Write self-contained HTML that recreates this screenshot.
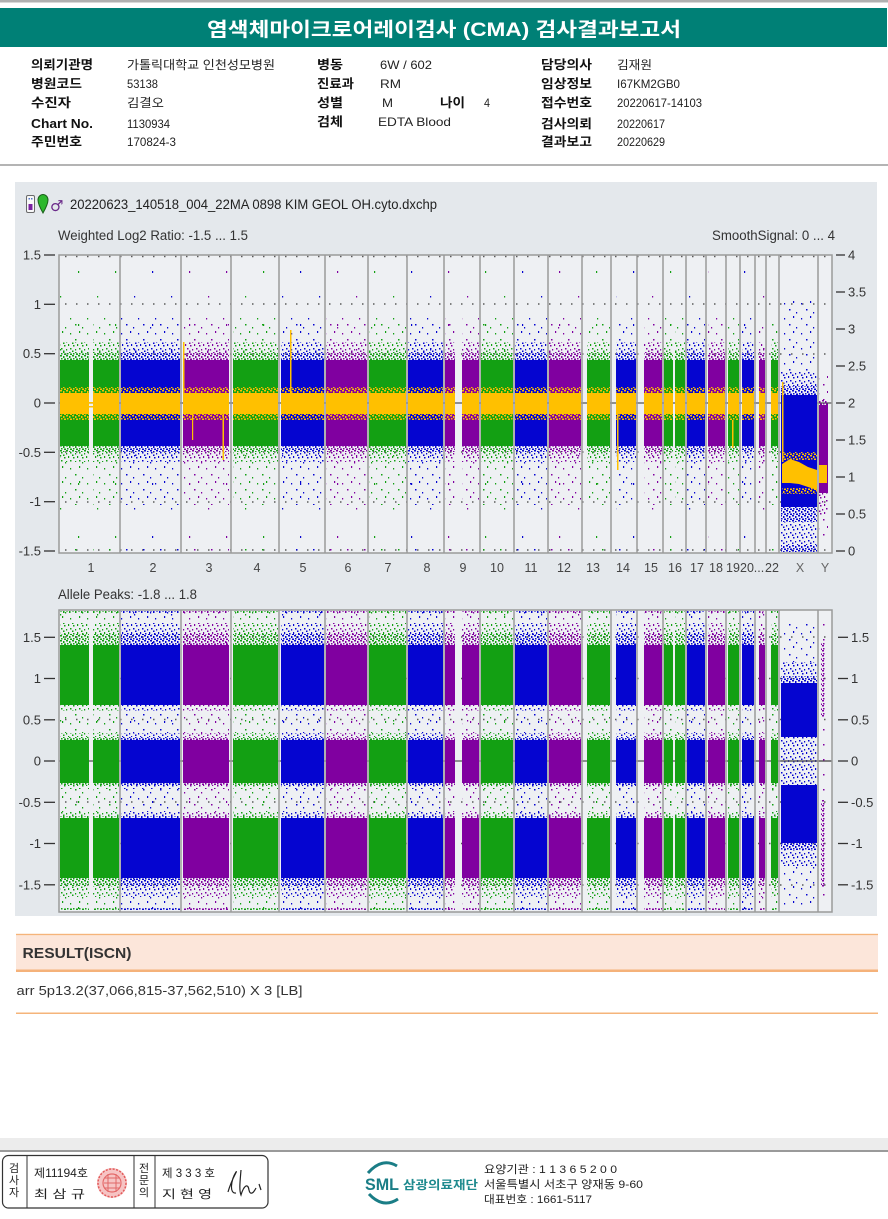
<!DOCTYPE html>
<html><head><meta charset="utf-8"><style>
html,body{margin:0;padding:0;background:#fff;}
svg{display:block;}
text{font-family:"Liberation Sans","Noto Sans CJK KR",sans-serif;}
</style></head><body>
<svg width="888" height="1219" viewBox="0 0 888 1219" xmlns="http://www.w3.org/2000/svg">
<defs>
 <g id="tD"><rect x="0" y="0" width="2" height="1.5"/><rect x="3" y="1" width="1.5" height="2"/><rect x="1" y="3" width="1.5" height="1.5"/><rect x="4" y="3.5" width="2" height="1.5"/></g>
 <g id="tM"><rect x="1" y="1" width="1.5" height="1.5"/><rect x="5" y="0" width="1.2" height="2"/><rect x="7" y="4" width="1.5" height="1.5"/><rect x="3" y="5" width="1.2" height="1.5"/><rect x="0" y="6.5" width="1.5" height="1.5"/></g>
 <g id="tS"><rect x="2" y="3" width="1.2" height="1.5"/><rect x="11" y="1" width="1.2" height="2"/><rect x="7" y="9" width="1.5" height="1.5"/><rect x="14" y="12" width="1.2" height="1.5"/></g>
 <g id="tV"><rect x="4" y="6" width="1.2" height="2"/><rect x="23" y="31" width="1.2" height="1.5"/></g>

 <pattern id="gD" width="6" height="5" patternUnits="userSpaceOnUse"><use href="#tD" fill="#13a013"/></pattern>
 <pattern id="gM" width="9" height="8" patternUnits="userSpaceOnUse"><use href="#tM" fill="#13a013"/></pattern>
 <pattern id="gS" width="17" height="15" patternUnits="userSpaceOnUse"><use href="#tS" fill="#13a013"/></pattern>
 <pattern id="gV" width="37" height="53" patternUnits="userSpaceOnUse"><use href="#tV" fill="#13a013"/></pattern>

 <pattern id="bD" width="6" height="5" patternUnits="userSpaceOnUse"><use href="#tD" fill="#0505d0"/></pattern>
 <pattern id="bM" width="9" height="8" patternUnits="userSpaceOnUse"><use href="#tM" fill="#0505d0"/></pattern>
 <pattern id="bS" width="17" height="15" patternUnits="userSpaceOnUse"><use href="#tS" fill="#0505d0"/></pattern>
 <pattern id="bV" width="37" height="53" patternUnits="userSpaceOnUse"><use href="#tV" fill="#0505d0"/></pattern>

 <pattern id="pD" width="6" height="5" patternUnits="userSpaceOnUse"><use href="#tD" fill="#8000a0"/></pattern>
 <pattern id="pM" width="9" height="8" patternUnits="userSpaceOnUse"><use href="#tM" fill="#8000a0"/></pattern>
 <pattern id="pS" width="17" height="15" patternUnits="userSpaceOnUse"><use href="#tS" fill="#8000a0"/></pattern>
 <pattern id="pV" width="37" height="53" patternUnits="userSpaceOnUse"><use href="#tV" fill="#8000a0"/></pattern>

 <pattern id="oD" width="6" height="5" patternUnits="userSpaceOnUse"><use href="#tD" fill="#ffc000"/></pattern>

 <clipPath id="cg">
  <rect x="60" y="0" width="29" height="1219"/><rect x="93" y="0" width="26" height="1219"/>
  <rect x="233" y="0" width="45" height="1219"/><rect x="369" y="0" width="37" height="1219"/>
  <rect x="481" y="0" width="32" height="1219"/><rect x="587" y="0" width="23" height="1219"/>
  <rect x="664" y="0" width="9" height="1219"/><rect x="675" y="0" width="10" height="1219"/>
  <rect x="728" y="0" width="11" height="1219"/><rect x="771" y="0" width="7" height="1219"/>
 </clipPath>
 <clipPath id="cb">
  <rect x="121" y="0" width="59" height="1219"/><rect x="281" y="0" width="43" height="1219"/>
  <rect x="408" y="0" width="35" height="1219"/><rect x="515" y="0" width="32" height="1219"/>
  <rect x="616" y="0" width="20" height="1219"/><rect x="687" y="0" width="18" height="1219"/>
  <rect x="742" y="0" width="12" height="1219"/>
 </clipPath>
 <clipPath id="cp">
  <rect x="183" y="0" width="46" height="1219"/><rect x="326" y="0" width="41" height="1219"/>
  <rect x="445" y="0" width="10" height="1219"/><rect x="462" y="0" width="17" height="1219"/>
  <rect x="549" y="0" width="32" height="1219"/><rect x="644" y="0" width="18" height="1219"/>
  <rect x="708" y="0" width="17" height="1219"/><rect x="759" y="0" width="6" height="1219"/>
 </clipPath>
</defs>

<!-- ===== HEADER ===== -->
<rect x="0" y="0" width="888" height="2.5" fill="#b0b0b0"/>
<rect x="0" y="8" width="887" height="39" fill="#008076"/>
<text x="444" y="36" text-anchor="middle" font-size="19.5" font-weight="bold" fill="#fff" textLength="474" lengthAdjust="spacingAndGlyphs">염색체마이크로어레이검사 (CMA) 검사결과보고서</text>

<g font-size="12.5" font-weight="bold" fill="#111">
 <text x="31" y="69" textLength="62" lengthAdjust="spacingAndGlyphs">의뢰기관명</text>
 <text x="31" y="88" textLength="51" lengthAdjust="spacingAndGlyphs">병원코드</text>
 <text x="31" y="107" textLength="40" lengthAdjust="spacingAndGlyphs">수진자</text>
 <text x="31" y="128" textLength="62" lengthAdjust="spacingAndGlyphs">Chart No.</text>
 <text x="31" y="146" textLength="51" lengthAdjust="spacingAndGlyphs">주민번호</text>
 <text x="317" y="69" textLength="26" lengthAdjust="spacingAndGlyphs">병동</text>
 <text x="317" y="88" textLength="37" lengthAdjust="spacingAndGlyphs">진료과</text>
 <text x="317" y="107" textLength="26" lengthAdjust="spacingAndGlyphs">성별</text>
 <text x="317" y="126" textLength="26" lengthAdjust="spacingAndGlyphs">검체</text>
 <text x="440" y="107" textLength="25" lengthAdjust="spacingAndGlyphs">나이</text>
 <text x="541" y="69" textLength="51" lengthAdjust="spacingAndGlyphs">담당의사</text>
 <text x="541" y="88" textLength="51" lengthAdjust="spacingAndGlyphs">임상정보</text>
 <text x="541" y="107" textLength="51" lengthAdjust="spacingAndGlyphs">접수번호</text>
 <text x="541" y="128" textLength="51" lengthAdjust="spacingAndGlyphs">검사의뢰</text>
 <text x="541" y="146" textLength="51" lengthAdjust="spacingAndGlyphs">결과보고</text>
</g>
<g font-size="12" fill="#222">
 <text x="127" y="69" textLength="148" lengthAdjust="spacingAndGlyphs">가톨릭대학교 인천성모병원</text>
 <text x="127" y="88" textLength="31" lengthAdjust="spacingAndGlyphs">53138</text>
 <text x="127" y="107" textLength="37" lengthAdjust="spacingAndGlyphs">김결오</text>
 <text x="127" y="128" textLength="43" lengthAdjust="spacingAndGlyphs">1130934</text>
 <text x="127" y="146" textLength="49" lengthAdjust="spacingAndGlyphs">170824-3</text>
 <text x="380" y="69" textLength="52" lengthAdjust="spacingAndGlyphs">6W / 602</text>
 <text x="380" y="88" textLength="21" lengthAdjust="spacingAndGlyphs">RM</text>
 <text x="382" y="107" textLength="11" lengthAdjust="spacingAndGlyphs">M</text>
 <text x="484" y="107" textLength="6" lengthAdjust="spacingAndGlyphs">4</text>
 <text x="378" y="126" textLength="73" lengthAdjust="spacingAndGlyphs">EDTA Blood</text>
 <text x="617" y="69" textLength="35" lengthAdjust="spacingAndGlyphs">김재원</text>
 <text x="617" y="88" textLength="63" lengthAdjust="spacingAndGlyphs">I67KM2GB0</text>
 <text x="617" y="107" textLength="85" lengthAdjust="spacingAndGlyphs">20220617-14103</text>
 <text x="617" y="128" textLength="48" lengthAdjust="spacingAndGlyphs">20220617</text>
 <text x="617" y="146" textLength="48" lengthAdjust="spacingAndGlyphs">20220629</text>
</g>
<rect x="0" y="164" width="888" height="2" fill="#b4b4b4"/>

<!-- ===== CHART PANEL ===== -->
<rect x="15" y="182" width="862" height="734" fill="#e4e8ec"/>

<!-- title row -->
<rect x="26.5" y="195.5" width="8" height="17" rx="1.5" fill="#f8f8f8" stroke="#6a6a6a"/>
<rect x="28.5" y="204" width="4" height="6" fill="#7a1fa0"/>
<rect x="28.5" y="198" width="1.5" height="1.5" fill="#5577cc"/><rect x="31" y="198" width="1.5" height="1.5" fill="#5577cc"/>
<path d="M43,213 C39,206 38,203 38,200 A5,5.5 0 0 1 48,200 C48,203 47,206 43,213 Z" fill="#2db82d" stroke="#1a5f1a"/>
<text x="50" y="211" font-size="15" fill="#6b2a8a" style="font-family:'DejaVu Sans',sans-serif">♂</text>
<text x="70" y="209" font-size="14" fill="#222" textLength="367" lengthAdjust="spacingAndGlyphs">20220623_140518_004_22MA 0898 KIM GEOL OH.cyto.dxchp</text>

<text x="58" y="240" font-size="13.5" fill="#333" textLength="190" lengthAdjust="spacingAndGlyphs">Weighted Log2 Ratio: -1.5 ... 1.5</text>
<text x="835" y="240" font-size="13.5" fill="#333" text-anchor="end" textLength="123" lengthAdjust="spacingAndGlyphs">SmoothSignal: 0 ... 4</text>
<text x="58" y="599" font-size="13.5" fill="#333" textLength="139" lengthAdjust="spacingAndGlyphs">Allele Peaks: -1.8 ... 1.8</text>

<!-- plot backgrounds -->
<rect x="59" y="255" width="773" height="298" fill="#eef0f3"/>
<rect x="59" y="610" width="773" height="302" fill="#eef0f3"/>

<!-- grids -->
<g stroke="#5a5a5a" stroke-width="1.5" stroke-dasharray="1.5 9.5">
 <line x1="65" y1="256.5" x2="832" y2="256.5"/>
 <line x1="65" y1="304" x2="832" y2="304"/>
 <line x1="65" y1="354" x2="832" y2="354"/>
 <line x1="65" y1="452" x2="832" y2="452"/>
 <line x1="65" y1="502" x2="832" y2="502"/>
 <line x1="65" y1="550" x2="832" y2="550"/>
 <line x1="65" y1="637" x2="832" y2="637"/>
 <line x1="65" y1="678.5" x2="832" y2="678.5"/>
 <line x1="65" y1="719.5" x2="832" y2="719.5"/>
 <line x1="65" y1="802" x2="832" y2="802"/>
 <line x1="65" y1="843.5" x2="832" y2="843.5"/>
 <line x1="65" y1="885" x2="832" y2="885"/>
</g>
<line x1="59" y1="403" x2="832" y2="403" stroke="#555" stroke-width="1.3"/>
<line x1="59" y1="761" x2="832" y2="761" stroke="#555" stroke-width="1.3"/>

<!-- ===== DATA: GREEN ===== -->
<g clip-path="url(#cg)">
<rect x="0" y="256" width="888" height="295" fill="url(#gV)"/>
<rect x="0" y="318" width="888" height="24" fill="url(#gS)"/>
<rect x="0" y="462" width="888" height="43" fill="url(#gS)"/>
<rect x="0" y="342" width="888" height="10" fill="url(#gM)"/>
<rect x="0" y="452" width="888" height="10" fill="url(#gM)"/>
<rect x="0" y="352" width="888" height="8" fill="url(#gD)"/>
<rect x="0" y="446" width="888" height="6" fill="url(#gD)"/>
<rect x="0" y="549" width="888" height="3" fill="url(#gS)"/>
<rect x="0" y="360" width="888" height="86" fill="#13a013"/>
<rect x="0" y="387" width="888" height="6" fill="url(#oD)"/>
<rect x="0" y="414" width="888" height="6" fill="url(#oD)"/>
<rect x="0" y="393" width="888" height="21" fill="#ffc000"/>
<rect x="0" y="612" width="888" height="298" fill="url(#gV)"/>
<rect x="0" y="612" width="888" height="11" fill="url(#gS)"/>
<rect x="0" y="711" width="888" height="22" fill="url(#gS)"/>
<rect x="0" y="789" width="888" height="23" fill="url(#gS)"/>
<rect x="0" y="897" width="888" height="12" fill="url(#gS)"/>
<rect x="0" y="623" width="888" height="11" fill="url(#gM)"/>
<rect x="0" y="705" width="888" height="6" fill="url(#gM)"/>
<rect x="0" y="733" width="888" height="4" fill="url(#gM)"/>
<rect x="0" y="785" width="888" height="4" fill="url(#gM)"/>
<rect x="0" y="812" width="888" height="4" fill="url(#gM)"/>
<rect x="0" y="886" width="888" height="11" fill="url(#gM)"/>
<rect x="0" y="634" width="888" height="11" fill="url(#gD)"/>
<rect x="0" y="737" width="888" height="3" fill="url(#gD)"/>
<rect x="0" y="783" width="888" height="2" fill="url(#gD)"/>
<rect x="0" y="816" width="888" height="2" fill="url(#gD)"/>
<rect x="0" y="878" width="888" height="8" fill="url(#gD)"/>
<rect x="0" y="611" width="888" height="2" fill="url(#gD)"/>
<rect x="0" y="908" width="888" height="2" fill="url(#gD)"/>
<rect x="0" y="645" width="888" height="60" fill="#13a013"/>
<rect x="0" y="740" width="888" height="43" fill="#13a013"/>
<rect x="0" y="818" width="888" height="60" fill="#13a013"/>
</g>

<!-- ===== DATA: BLUE ===== -->
<g clip-path="url(#cb)">
<rect x="0" y="256" width="888" height="295" fill="url(#bV)"/>
<rect x="0" y="318" width="888" height="24" fill="url(#bS)"/>
<rect x="0" y="462" width="888" height="43" fill="url(#bS)"/>
<rect x="0" y="342" width="888" height="10" fill="url(#bM)"/>
<rect x="0" y="452" width="888" height="10" fill="url(#bM)"/>
<rect x="0" y="352" width="888" height="8" fill="url(#bD)"/>
<rect x="0" y="446" width="888" height="6" fill="url(#bD)"/>
<rect x="0" y="549" width="888" height="3" fill="url(#bS)"/>
<rect x="0" y="360" width="888" height="86" fill="#0505d0"/>
<rect x="0" y="387" width="888" height="6" fill="url(#oD)"/>
<rect x="0" y="414" width="888" height="6" fill="url(#oD)"/>
<rect x="0" y="393" width="888" height="21" fill="#ffc000"/>
<rect x="0" y="612" width="888" height="298" fill="url(#bV)"/>
<rect x="0" y="612" width="888" height="11" fill="url(#bS)"/>
<rect x="0" y="711" width="888" height="22" fill="url(#bS)"/>
<rect x="0" y="789" width="888" height="23" fill="url(#bS)"/>
<rect x="0" y="897" width="888" height="12" fill="url(#bS)"/>
<rect x="0" y="623" width="888" height="11" fill="url(#bM)"/>
<rect x="0" y="705" width="888" height="6" fill="url(#bM)"/>
<rect x="0" y="733" width="888" height="4" fill="url(#bM)"/>
<rect x="0" y="785" width="888" height="4" fill="url(#bM)"/>
<rect x="0" y="812" width="888" height="4" fill="url(#bM)"/>
<rect x="0" y="886" width="888" height="11" fill="url(#bM)"/>
<rect x="0" y="634" width="888" height="11" fill="url(#bD)"/>
<rect x="0" y="737" width="888" height="3" fill="url(#bD)"/>
<rect x="0" y="783" width="888" height="2" fill="url(#bD)"/>
<rect x="0" y="816" width="888" height="2" fill="url(#bD)"/>
<rect x="0" y="878" width="888" height="8" fill="url(#bD)"/>
<rect x="0" y="611" width="888" height="2" fill="url(#bD)"/>
<rect x="0" y="908" width="888" height="2" fill="url(#bD)"/>
<rect x="0" y="645" width="888" height="60" fill="#0505d0"/>
<rect x="0" y="740" width="888" height="43" fill="#0505d0"/>
<rect x="0" y="818" width="888" height="60" fill="#0505d0"/>
</g>

<!-- ===== DATA: PURPLE ===== -->
<g clip-path="url(#cp)">
<rect x="0" y="256" width="888" height="295" fill="url(#pV)"/>
<rect x="0" y="318" width="888" height="24" fill="url(#pS)"/>
<rect x="0" y="462" width="888" height="43" fill="url(#pS)"/>
<rect x="0" y="342" width="888" height="10" fill="url(#pM)"/>
<rect x="0" y="452" width="888" height="10" fill="url(#pM)"/>
<rect x="0" y="352" width="888" height="8" fill="url(#pD)"/>
<rect x="0" y="446" width="888" height="6" fill="url(#pD)"/>
<rect x="0" y="549" width="888" height="3" fill="url(#pS)"/>
<rect x="0" y="360" width="888" height="86" fill="#8000a0"/>
<rect x="0" y="387" width="888" height="6" fill="url(#oD)"/>
<rect x="0" y="414" width="888" height="6" fill="url(#oD)"/>
<rect x="0" y="393" width="888" height="21" fill="#ffc000"/>
<rect x="0" y="612" width="888" height="298" fill="url(#pV)"/>
<rect x="0" y="612" width="888" height="11" fill="url(#pS)"/>
<rect x="0" y="711" width="888" height="22" fill="url(#pS)"/>
<rect x="0" y="789" width="888" height="23" fill="url(#pS)"/>
<rect x="0" y="897" width="888" height="12" fill="url(#pS)"/>
<rect x="0" y="623" width="888" height="11" fill="url(#pM)"/>
<rect x="0" y="705" width="888" height="6" fill="url(#pM)"/>
<rect x="0" y="733" width="888" height="4" fill="url(#pM)"/>
<rect x="0" y="785" width="888" height="4" fill="url(#pM)"/>
<rect x="0" y="812" width="888" height="4" fill="url(#pM)"/>
<rect x="0" y="886" width="888" height="11" fill="url(#pM)"/>
<rect x="0" y="634" width="888" height="11" fill="url(#pD)"/>
<rect x="0" y="737" width="888" height="3" fill="url(#pD)"/>
<rect x="0" y="783" width="888" height="2" fill="url(#pD)"/>
<rect x="0" y="816" width="888" height="2" fill="url(#pD)"/>
<rect x="0" y="878" width="888" height="8" fill="url(#pD)"/>
<rect x="0" y="611" width="888" height="2" fill="url(#pD)"/>
<rect x="0" y="908" width="888" height="2" fill="url(#pD)"/>
<rect x="0" y="645" width="888" height="60" fill="#8000a0"/>
<rect x="0" y="740" width="888" height="43" fill="#8000a0"/>
<rect x="0" y="818" width="888" height="60" fill="#8000a0"/>
</g>

<!-- orange spikes -->
<g fill="#ffc000">
 <rect x="183" y="342" width="1.5" height="62"/>
 <rect x="192" y="404" width="1.2" height="36"/>
 <rect x="222.5" y="404" width="1.5" height="56"/>
 <rect x="290" y="330" width="1.5" height="70"/>
 <rect x="617" y="404" width="1.5" height="66"/>
 <rect x="89" y="402" width="4" height="1.5"/>
 <rect x="89" y="406" width="4" height="1.5"/>
 <rect x="732" y="420" width="1.5" height="28"/>
</g>

<!-- X upper -->
<rect x="781" y="300" width="36" height="72" fill="url(#bS)"/>
<rect x="781" y="372" width="36" height="14" fill="url(#bM)"/>
<rect x="781" y="386" width="36" height="9" fill="url(#bD)"/>
<rect x="781" y="395" width="36" height="112" fill="#0505d0"/>
<rect x="781" y="507" width="36" height="15" fill="url(#bD)"/>
<rect x="781" y="522" width="36" height="23" fill="url(#bM)"/>
<rect x="781" y="545" width="36" height="7" fill="url(#bD)"/>
<rect x="782" y="452" width="35" height="8" fill="url(#oD)"/>
<rect x="782" y="488" width="35" height="6" fill="url(#oD)"/>
<polygon points="782,464 790,459 799,462 808,467 817,470 817,490 808,487 799,484 790,483 782,483" fill="#ffc000"/>
<rect x="782" y="382" width="1.5" height="80" fill="#ffc000"/>
<!-- Y upper -->
<rect x="819" y="375" width="9" height="25" fill="url(#pS)"/>
<rect x="819" y="400" width="9" height="5" fill="url(#pD)"/>
<rect x="819" y="405" width="9" height="88" fill="#8000a0"/>
<rect x="819" y="493" width="9" height="22" fill="url(#pM)"/>
<rect x="819" y="515" width="9" height="25" fill="url(#pS)"/>
<rect x="819" y="465" width="8" height="18" fill="#ffc000"/>

<!-- X lower -->
<rect x="781" y="620" width="36" height="42" fill="url(#bS)"/>
<rect x="781" y="662" width="36" height="14" fill="url(#bM)"/>
<rect x="781" y="676" width="36" height="7" fill="url(#bD)"/>
<rect x="781" y="683" width="36" height="54" fill="#0505d0"/>
<rect x="781" y="737" width="36" height="48" fill="url(#bM)"/>
<rect x="781" y="785" width="36" height="58" fill="#0505d0"/>
<rect x="781" y="843" width="36" height="7" fill="url(#bD)"/>
<rect x="781" y="850" width="36" height="16" fill="url(#bM)"/>
<rect x="781" y="866" width="36" height="39" fill="url(#bS)"/>
<line x1="781" y1="761" x2="832" y2="761" stroke="#555" stroke-width="1.3"/>
<!-- Y lower -->
<rect x="821" y="612" width="5" height="31" fill="url(#pS)"/>
<rect x="821" y="643" width="4" height="74" fill="url(#pD)"/>
<rect x="821" y="717" width="5" height="83" fill="url(#pS)"/>
<rect x="821" y="800" width="4" height="87" fill="url(#pD)"/>
<rect x="821" y="887" width="5" height="22" fill="url(#pS)"/>

<!-- separators & borders -->
<path d="M120 255V553M181 255V553M231 255V553M279 255V553M325 255V553M368 255V553M407 255V553M444 255V553M480 255V553M514 255V553M548 255V553M582 255V553M611 255V553M637 255V553M663 255V553M686 255V553M706 255V553M726 255V553M740 255V553M755 255V553M766 255V553M779 255V553M818 255V553" stroke="#9a9a9a" stroke-width="1.5" fill="none"/>
<path d="M120 610V912M181 610V912M231 610V912M279 610V912M325 610V912M368 610V912M407 610V912M444 610V912M480 610V912M514 610V912M548 610V912M582 610V912M611 610V912M637 610V912M663 610V912M686 610V912M706 610V912M726 610V912M740 610V912M755 610V912M766 610V912M779 610V912M818 610V912" stroke="#9a9a9a" stroke-width="1.5" fill="none"/>
<rect x="59" y="255" width="773" height="298" fill="none" stroke="#9a9a9a" stroke-width="1.5"/>
<rect x="59" y="610" width="773" height="302" fill="none" stroke="#9a9a9a" stroke-width="1.5"/>

<!-- axes ticks -->
<g stroke="#333" stroke-width="1.3">
 <line x1="44" y1="255" x2="55" y2="255"/><line x1="44" y1="304.3" x2="55" y2="304.3"/><line x1="44" y1="353.7" x2="55" y2="353.7"/><line x1="44" y1="403" x2="55" y2="403"/><line x1="44" y1="452.3" x2="55" y2="452.3"/><line x1="44" y1="501.7" x2="55" y2="501.7"/><line x1="44" y1="551" x2="55" y2="551"/>
 <line x1="836" y1="255" x2="845" y2="255"/><line x1="836" y1="292" x2="845" y2="292"/><line x1="836" y1="329" x2="845" y2="329"/><line x1="836" y1="366" x2="845" y2="366"/><line x1="836" y1="403" x2="845" y2="403"/><line x1="836" y1="440" x2="845" y2="440"/><line x1="836" y1="477" x2="845" y2="477"/><line x1="836" y1="514" x2="845" y2="514"/><line x1="836" y1="551" x2="845" y2="551"/>
 <line x1="44" y1="637.3" x2="55" y2="637.3"/><line x1="44" y1="678.5" x2="55" y2="678.5"/><line x1="44" y1="719.8" x2="55" y2="719.8"/><line x1="44" y1="761" x2="55" y2="761"/><line x1="44" y1="802.3" x2="55" y2="802.3"/><line x1="44" y1="843.5" x2="55" y2="843.5"/><line x1="44" y1="884.8" x2="55" y2="884.8"/>
 <line x1="838" y1="637.3" x2="848" y2="637.3"/><line x1="838" y1="678.5" x2="848" y2="678.5"/><line x1="838" y1="719.8" x2="848" y2="719.8"/><line x1="838" y1="761" x2="848" y2="761"/><line x1="838" y1="802.3" x2="848" y2="802.3"/><line x1="838" y1="843.5" x2="848" y2="843.5"/><line x1="838" y1="884.8" x2="848" y2="884.8"/>
</g>
<g font-size="13" fill="#333" text-anchor="end">
 <text x="41" y="259.5">1.5</text><text x="41" y="308.8">1</text><text x="41" y="358.2">0.5</text><text x="41" y="407.5">0</text><text x="41" y="456.8">-0.5</text><text x="41" y="506.2">-1</text><text x="41" y="555.5">-1.5</text>
 <text x="41" y="641.8">1.5</text><text x="41" y="683">1</text><text x="41" y="724.3">0.5</text><text x="41" y="765.5">0</text><text x="41" y="806.8">-0.5</text><text x="41" y="848">-1</text><text x="41" y="889.3">-1.5</text>
</g>
<g font-size="13" fill="#333">
 <text x="848" y="259.5">4</text><text x="848" y="296.5">3.5</text><text x="848" y="333.5">3</text><text x="848" y="370.5">2.5</text><text x="848" y="407.5">2</text><text x="848" y="444.5">1.5</text><text x="848" y="481.5">1</text><text x="848" y="518.5">0.5</text><text x="848" y="555.5">0</text>
 <text x="851" y="641.8">1.5</text><text x="851" y="683">1</text><text x="851" y="724.3">0.5</text><text x="851" y="765.5">0</text><text x="851" y="806.8">-0.5</text><text x="851" y="848">-1</text><text x="851" y="889.3">-1.5</text>
</g>

<!-- chromosome labels -->
<g font-size="12.5" fill="#444" text-anchor="middle">
 <text x="91" y="572">1</text><text x="153" y="572">2</text><text x="209" y="572">3</text><text x="257" y="572">4</text><text x="303" y="572">5</text><text x="348" y="572">6</text><text x="388" y="572">7</text><text x="427" y="572">8</text><text x="463" y="572">9</text><text x="497" y="572">10</text><text x="531" y="572">11</text><text x="564" y="572">12</text><text x="593" y="572">13</text><text x="623" y="572">14</text><text x="651" y="572">15</text><text x="675" y="572">16</text><text x="697" y="572">17</text><text x="716" y="572">18</text><text x="733" y="572">19</text><text x="747" y="572">20</text><text x="759" y="572">...</text><text x="772" y="572">22</text><text x="800" y="572" fill="#666">X</text><text x="825" y="572" fill="#666">Y</text>
</g>

<!-- ===== RESULT ===== -->
<rect x="16" y="933.8" width="862" height="1.5" fill="#f5b47a"/>
<rect x="16" y="935.3" width="862" height="34.2" fill="#fce6da"/>
<rect x="16" y="969.5" width="862" height="2.5" fill="#f5b27a"/>
<text x="22.5" y="958" font-size="15" font-weight="bold" fill="#333" textLength="109" lengthAdjust="spacingAndGlyphs">RESULT(ISCN)</text>
<text x="16.5" y="995" font-size="13" fill="#333" textLength="286" lengthAdjust="spacingAndGlyphs">arr 5p13.2(37,066,815-37,562,510) X 3 [LB]</text>
<rect x="16" y="1012.5" width="862" height="1.5" fill="#f5b47a"/>

<!-- ===== FOOTER ===== -->
<rect x="0" y="1138" width="888" height="12" fill="#ececec"/>
<rect x="0" y="1150" width="888" height="2" fill="#9a9a9a"/>
<rect x="2.5" y="1155.5" width="265.5" height="52.5" rx="6" fill="#fff" stroke="#333" stroke-width="1.2"/>
<line x1="27" y1="1155.5" x2="27" y2="1208" stroke="#333" stroke-width="1"/>
<line x1="134" y1="1155.5" x2="134" y2="1208" stroke="#333" stroke-width="1"/>
<line x1="155" y1="1155.5" x2="155" y2="1208" stroke="#333" stroke-width="1"/>
<g font-size="11" fill="#222" text-anchor="middle">
 <text x="14" y="1172">검</text><text x="14" y="1184">사</text><text x="14" y="1196">자</text>
 <text x="144" y="1172">전</text><text x="144" y="1184">문</text><text x="144" y="1196">의</text>
</g>
<g font-size="11.5" fill="#222">
 <text x="34" y="1177" textLength="54" lengthAdjust="spacingAndGlyphs">제11194호</text>
 <text x="34" y="1198" textLength="51" lengthAdjust="spacingAndGlyphs">최 삼 규</text>
 <text x="162" y="1177" textLength="53" lengthAdjust="spacingAndGlyphs">제 3 3 3 호</text>
 <text x="162" y="1198" textLength="50" lengthAdjust="spacingAndGlyphs">지 현 영</text>
</g>
<circle cx="112" cy="1183" r="15" fill="#f6c4c4"/>
<circle cx="112" cy="1183" r="14" fill="none" stroke="#e25a5a" stroke-width="1.5" stroke-dasharray="2 1.5"/>
<circle cx="112" cy="1183" r="9" fill="none" stroke="#e56b6b" stroke-width="1.2"/>
<path d="M104,1178h16M104,1183h16M104,1188h16M108,1174v18M116,1174v18" stroke="#e06868" stroke-width="1"/>
<path d="M228,1192 C232,1178 238,1170 236,1172 C231,1180 229,1194 236,1193 M241,1170 C240,1182 239,1190 241,1195 C244,1185 248,1183 249,1190 C250,1195 253,1194 256,1188 M259,1184 L261,1190" stroke="#222" stroke-width="1.2" fill="none"/>

<path d="M368,1173 Q382,1157 397,1166" stroke="#1a7d86" stroke-width="3" fill="none"/>
<path d="M369,1194 Q383,1209 398,1199" stroke="#1a7d86" stroke-width="3" fill="none"/>
<text x="365" y="1190" font-size="17" font-weight="bold" fill="#1a7d86" textLength="34" lengthAdjust="spacingAndGlyphs">SML</text>
<text x="403" y="1189" font-size="12" font-weight="bold" fill="#1e8a8e" textLength="75" lengthAdjust="spacingAndGlyphs">삼광의료재단</text>
<g font-size="11" fill="#222">
 <text x="484" y="1173" textLength="133" lengthAdjust="spacingAndGlyphs">요양기관 : 1 1 3 6 5 2 0 0</text>
 <text x="484" y="1188" textLength="159" lengthAdjust="spacingAndGlyphs">서울특별시 서초구 양재동 9-60</text>
 <text x="484" y="1203" textLength="108" lengthAdjust="spacingAndGlyphs">대표번호 : 1661-5117</text>
</g>
</svg>
</body></html>
